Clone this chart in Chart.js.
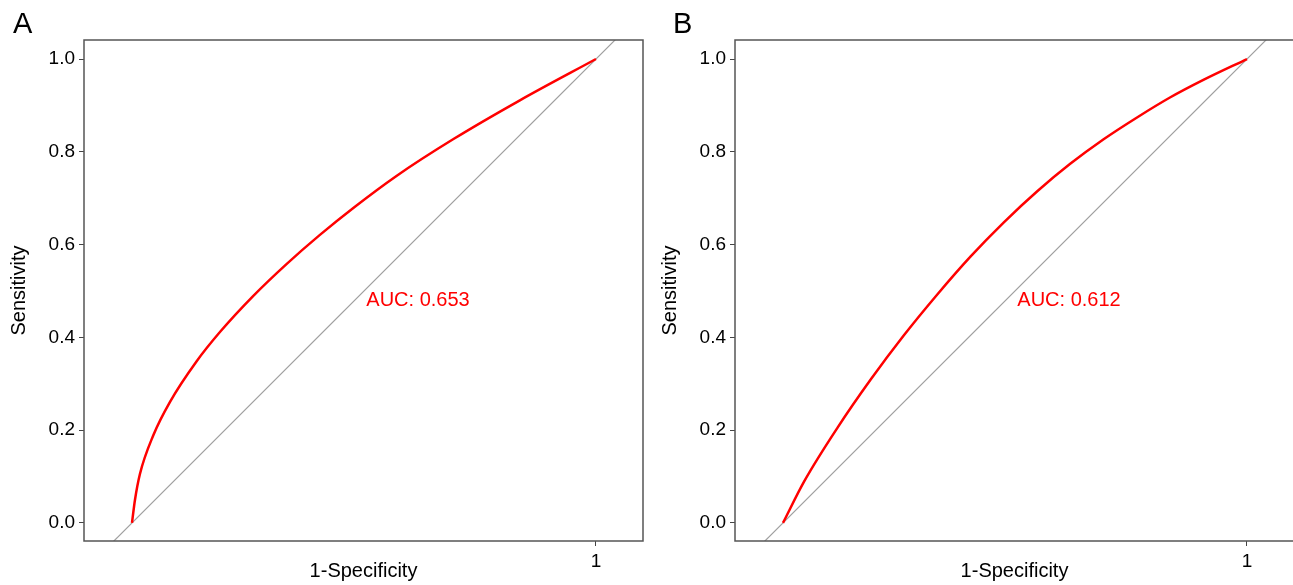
<!DOCTYPE html>
<html>
<head>
<meta charset="utf-8">
<script src="https://cdn.jsdelivr.net/npm/chart.js@4.4.1/dist/chart.umd.min.js"></script>
<style>
  html, body { margin: 0; padding: 0; background: #fff; overflow: hidden; }
  .panel { position: absolute; top: 0; width: 650px; height: 585px; }
</style>
</head>
<body>
<div class="panel" style="left:0"><canvas id="rocA" width="650" height="585"></canvas></div>
<div class="panel" style="left:651px"><canvas id="rocB" width="650" height="585"></canvas></div>
<script>
// ROC points (1-specificity, sensitivity)
const rocA_fpr = [0, 0.0065, 0.017, 0.046, 0.082, 0.139, 0.19, 0.261, 0.333, 0.405, 0.477, 0.57, 0.692, 0.836, 1.0];
const rocA_tpr = [0, 0.05, 0.105, 0.189, 0.261, 0.348, 0.412, 0.489, 0.558, 0.621, 0.679, 0.748, 0.827, 0.911, 1.0];

const rocB_fpr = [0, 0.046, 0.118, 0.189, 0.261, 0.333, 0.404, 0.476, 0.548, 0.619, 0.691, 0.763, 0.834, 0.906, 1.0];
const rocB_tpr = [0, 0.09, 0.206, 0.309, 0.405, 0.493, 0.574, 0.648, 0.715, 0.774, 0.827, 0.874, 0.917, 0.955, 1.0];

const diagonal = [-0.2, 1.2];
const yTicks = [0, 0.2, 0.4, 0.6, 0.8, 1.0];
const xTicks = [1];
const aucLabels = ['AUC: 0.653', 'AUC: 0.612'];
const panelLetters = ['A', 'B'];

const FONT = 'Liberation Sans, Arial, Helvetica, sans-serif';

function toPoints(xs, ys) {
    return xs.map((x, i) => ({ x: x, y: ys[i] }));
}

// рамка, подпись AUC и буква панели
function makeDecor(letter, letterX, aucText) {
    return {
        id: 'decor',
        afterDraw(chart) {
            const { ctx, chartArea } = chart;
            const xs = chart.scales.x, ys = chart.scales.y;
            ctx.save();
            ctx.strokeStyle = '#555';
            ctx.lineWidth = 1.5;
            ctx.strokeRect(chartArea.left, chartArea.top, chartArea.right - chartArea.left, chartArea.bottom - chartArea.top);

            ctx.fillStyle = '#ff0000';
            ctx.font = '20px ' + FONT;
            ctx.textBaseline = 'middle';
            ctx.textAlign = 'left';
            ctx.fillText(aucText, xs.getPixelForValue(0.505), ys.getPixelForValue(0.48));

            ctx.fillStyle = '#000';
            ctx.font = '29px ' + FONT;
            ctx.textBaseline = 'alphabetic';
            ctx.fillText(letter, letterX, 33);
            ctx.restore();
        }
    };
}

function buildRoc(canvasId, fpr, tpr, idx, letterX) {
    const ctx = document.getElementById(canvasId).getContext('2d');
    return new Chart(ctx, {
        type: 'scatter',
        data: {
            datasets: [
                {
                    data: toPoints(diagonal, diagonal),
                    showLine: true,
                    borderColor: '#a0a0a0',
                    borderWidth: 1.2,
                    pointRadius: 0,
                    order: 2
                },
                {
                    data: toPoints(fpr, tpr),
                    showLine: true,
                    borderColor: '#ff0000',
                    borderWidth: 2.5,
                    pointRadius: 0,
                    cubicInterpolationMode: 'monotone',
                    order: 1
                }
            ]
        },
        options: {
            responsive: false,
            animation: false,
            layout: { padding: { top: 40, right: 7, left: 0, bottom: 0 } },
            plugins: { legend: { display: false }, tooltip: { enabled: false } },
            scales: {
                x: {
                    type: 'linear',
                    min: -0.1034,
                    max: 1.1013,
                    afterBuildTicks: s => { s.ticks = xTicks.map(v => ({ value: v })); },
                    afterFit: s => { s.height = 44; },
                    grid: { drawOnChartArea: false, drawTicks: true, tickLength: 5, color: '#444' },
                    border: { display: false },
                    ticks: { color: '#000', font: { family: FONT, size: 19 }, padding: 4, callback: v => String(v) },
                    title: { display: true, text: '1-Specificity', color: '#000', font: { family: FONT, size: 20 }, padding: { top: 0, bottom: 2 } }
                },
                y: {
                    type: 'linear',
                    min: -0.039,
                    max: 1.041,
                    afterBuildTicks: s => { s.ticks = yTicks.map(v => ({ value: v })); },
                    afterFit: s => { s.width = 84; },
                    grid: { drawOnChartArea: false, drawTicks: true, tickLength: 5, color: '#444' },
                    border: { display: false },
                    ticks: { color: '#000', font: { family: FONT, size: 19 }, padding: 4, callback: v => Number(v).toFixed(1) },
                    title: { display: true, text: 'Sensitivity', color: '#000', font: { family: FONT, size: 20 }, padding: { top: 7, bottom: 0 } }
                }
            }
        },
        plugins: [makeDecor(panelLetters[idx], letterX, aucLabels[idx])]
    });
}

buildRoc('rocA', rocA_fpr, rocA_tpr, 0, 13);
buildRoc('rocB', rocB_fpr, rocB_tpr, 1, 22);
</script>
</body>
</html>
